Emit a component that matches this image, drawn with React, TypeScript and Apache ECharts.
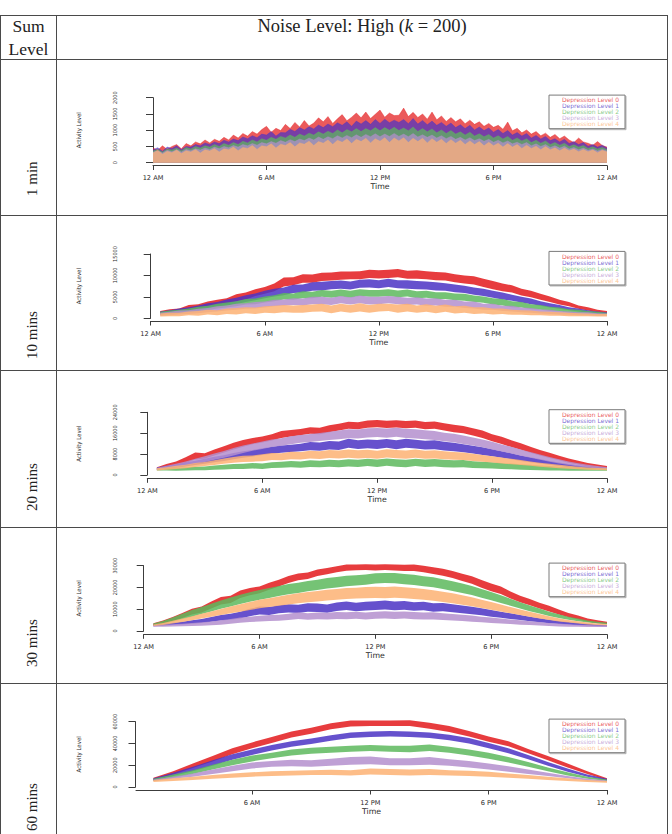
import React, { useEffect, useRef } from "react";
import * as echarts from "echarts";

// ---------- labels ----------
const LEVEL_NAMES = [
  "Depression Level 0",
  "Depression Level 1",
  "Depression Level 2",
  "Depression Level 3",
  "Depression Level 4",
];
const LEVEL_COLORS = ["#E31A1C", "#4B33C4", "#5DB85D", "#B48FCE", "#FDB273"];
const BAND_OPACITY = 0.85;
const SPIKE_OPACITY = 0.72;

const TICK_MINUTES = [0, 360, 720, 1080, 1440];
const TICK_LABELS = ["12 AM", "6 AM", "12 PM", "6 PM", "12 AM"];
const SUM_LEVELS = ["1 min", "10 mins", "20 mins", "30 mins", "60 mins"];

// ---------- sample times (minutes after midnight) ----------
const TIMES_1MIN = Array.from({ length: 97 }, (_, i) => i * 15);
const TIMES_HALF_HOUR = Array.from({ length: 48 }, (_, i) => 30 + i * 30);
const TIMES_HOUR = Array.from({ length: 24 }, (_, i) => 60 + i * 60);

// ---------- 1-min sums (filled from zero) ----------
const MIN1_L0 = [450, 380, 520, 410, 500, 560, 430, 590, 520, 640, 580, 700, 610, 720, 660, 780, 700, 850, 760, 900, 820, 960, 880, 1020, 1120, 940, 1060, 990, 1180, 1050, 1240, 1100, 1300, 1130, 1220, 1380, 1260, 1420, 1210, 1350, 1480, 1290, 1400, 1530, 1380, 1560, 1360, 1490, 1620, 1400, 1530, 1450, 1460, 1680, 1420, 1550, 1390, 1500, 1340, 1560, 1320, 1440, 1270, 1390, 1260, 1350, 1200, 1310, 1180, 1260, 1120, 1210, 1090, 1150, 1030, 1250, 980, 1060, 920, 1010, 880, 960, 830, 910, 780, 870, 740, 820, 700, 620, 760, 640, 600, 540, 650, 530, 480];
const MIN1_L1 = [400, 460, 350, 480, 440, 520, 410, 500, 480, 560, 520, 610, 560, 640, 590, 690, 640, 730, 680, 790, 740, 830, 770, 880, 850, 960, 820, 930, 920, 1030, 960, 1080, 1010, 1110, 1040, 1160, 1080, 1190, 1110, 1230, 1150, 1260, 1120, 1280, 1190, 1300, 1180, 1330, 1210, 1340, 1230, 1310, 1240, 1330, 1200, 1360, 1190, 1300, 1170, 1280, 1150, 1240, 1120, 1220, 1080, 1170, 1050, 1150, 1010, 1100, 990, 1070, 940, 1020, 900, 990, 850, 930, 820, 900, 760, 840, 730, 810, 680, 740, 640, 720, 590, 650, 560, 620, 510, 560, 480, 540, 450];
const MIN1_L2 = [360, 410, 330, 420, 390, 450, 370, 470, 420, 500, 450, 520, 480, 560, 500, 590, 540, 620, 560, 660, 610, 700, 640, 740, 690, 780, 720, 810, 760, 850, 780, 880, 820, 910, 850, 950, 880, 970, 900, 1010, 920, 1020, 950, 1050, 960, 1050, 980, 1080, 980, 1080, 1000, 1090, 990, 1070, 980, 1100, 960, 1050, 950, 1040, 920, 1010, 900, 990, 880, 950, 850, 940, 820, 890, 800, 870, 760, 830, 730, 810, 690, 760, 670, 740, 620, 690, 600, 670, 560, 620, 540, 600, 500, 550, 480, 530, 440, 490, 420, 470, 400];
const MIN1_L3 = [320, 370, 300, 380, 340, 400, 330, 410, 370, 430, 390, 450, 410, 480, 430, 500, 460, 530, 480, 560, 520, 590, 540, 620, 580, 650, 600, 680, 630, 710, 650, 730, 680, 760, 700, 790, 720, 800, 740, 830, 760, 840, 770, 860, 780, 870, 800, 890, 800, 880, 810, 900, 810, 880, 800, 900, 790, 860, 780, 850, 760, 830, 740, 810, 720, 780, 700, 770, 680, 740, 660, 720, 630, 690, 610, 670, 580, 630, 560, 620, 520, 580, 500, 560, 470, 520, 450, 510, 420, 470, 400, 450, 380, 420, 360, 410, 360];
const MIN1_L4 = [300, 380, 260, 350, 310, 390, 280, 370, 330, 410, 300, 400, 360, 440, 330, 430, 400, 480, 370, 470, 440, 530, 410, 520, 490, 580, 450, 570, 530, 620, 490, 610, 570, 660, 530, 650, 600, 700, 560, 690, 630, 730, 590, 720, 650, 750, 610, 740, 660, 770, 620, 760, 670, 770, 620, 750, 650, 750, 610, 740, 630, 720, 590, 710, 600, 690, 560, 670, 560, 650, 520, 630, 520, 600, 480, 590, 480, 560, 440, 540, 440, 510, 400, 500, 400, 460, 370, 450, 370, 420, 340, 410, 340, 390, 310, 380, 330];

// ---------- 10-min sums (band: low / high) ----------
const MIN10_L0_LO = [900, 1200, 1400, 2000, 2200, 2700, 3000, 3400, 4000, 4400, 5200, 5700, 6300, 7400, 7700, 8300, 8300, 8700, 8800, 9000, 9100, 9100, 9400, 9300, 9400, 9600, 9200, 9200, 9100, 8900, 8800, 8400, 8100, 7900, 7300, 6800, 6300, 6000, 5300, 4900, 4300, 3800, 3200, 2800, 2200, 1800, 1400, 1100];
const MIN10_L0_HI = [1700, 2100, 2300, 3100, 3300, 3900, 4300, 4700, 5600, 6000, 6800, 7300, 8100, 9500, 9600, 10300, 10200, 10600, 10700, 10900, 10900, 11000, 11300, 11200, 11300, 11500, 11100, 11200, 11000, 10800, 10700, 10300, 10000, 9800, 9200, 8700, 8100, 7700, 6900, 6400, 5700, 5100, 4300, 3800, 3000, 2600, 2000, 1700];
const MIN10_L1_LO = [900, 1100, 1400, 1700, 1900, 2300, 2600, 3000, 3300, 3800, 4200, 4700, 5100, 5400, 5900, 6000, 6400, 6500, 6800, 6900, 6700, 7100, 7200, 7000, 7300, 7000, 6900, 6800, 6700, 6500, 6400, 6100, 5900, 5500, 5200, 4800, 4400, 4100, 3700, 3300, 2900, 2500, 2200, 1900, 1600, 1300, 1100, 1000];
const MIN10_L1_HI = [1600, 1900, 2300, 2600, 3000, 3500, 3800, 4400, 4800, 5400, 5800, 6400, 6900, 7200, 7800, 7900, 8400, 8500, 8700, 8800, 8600, 9000, 9100, 8900, 9200, 8900, 8900, 8700, 8600, 8400, 8200, 7900, 7600, 7200, 6900, 6400, 6000, 5500, 5000, 4600, 4000, 3500, 3100, 2600, 2300, 1900, 1600, 1400];
const MIN10_L2_LO = [800, 1000, 1200, 1400, 1700, 1900, 2300, 2500, 2800, 3200, 3300, 3700, 4000, 4400, 4300, 4700, 4700, 5000, 4800, 5100, 4800, 5200, 5000, 5000, 5200, 4900, 5100, 4700, 4800, 4500, 4500, 4200, 4100, 3800, 3600, 3200, 3000, 2600, 2500, 2100, 2000, 1700, 1600, 1300, 1200, 1100, 1000, 900];
const MIN10_L2_HI = [1500, 1800, 2000, 2300, 2700, 2900, 3400, 3700, 4000, 4500, 4600, 5100, 5400, 5900, 5800, 6300, 6200, 6600, 6400, 6700, 6400, 6800, 6600, 6600, 6800, 6500, 6700, 6300, 6400, 6100, 6100, 5800, 5700, 5300, 5100, 4700, 4500, 4000, 3800, 3300, 3100, 2700, 2500, 2100, 2000, 1700, 1500, 1300];
const MIN10_L3_LO = [600, 700, 900, 1000, 1200, 1400, 1600, 1800, 2000, 2200, 2300, 2500, 2800, 2900, 3100, 3000, 3300, 3300, 3100, 3500, 3200, 3500, 3200, 3300, 3500, 3300, 3100, 3200, 2900, 3000, 2700, 2700, 2400, 2300, 2000, 2000, 1700, 1600, 1400, 1300, 1100, 1000, 900, 800, 700, 700, 600, 600];
const MIN10_L3_HI = [1300, 1500, 1800, 1900, 2200, 2400, 2800, 3000, 3400, 3500, 3800, 3900, 4300, 4400, 4700, 4600, 5000, 5000, 4800, 5200, 4900, 5300, 5000, 5000, 5200, 5000, 4800, 4900, 4600, 4700, 4300, 4300, 3900, 3900, 3400, 3400, 2900, 2900, 2500, 2400, 2100, 2000, 1700, 1600, 1400, 1400, 1200, 1100];
const MIN10_L4_LO = [400, 500, 500, 700, 600, 900, 700, 1000, 900, 1200, 1000, 1300, 1200, 1400, 1300, 1300, 1500, 1600, 1200, 1600, 1300, 1600, 1300, 1600, 1700, 1300, 1600, 1300, 1500, 1200, 1500, 1100, 1300, 1000, 1100, 900, 1000, 800, 800, 700, 700, 600, 600, 500, 500, 500, 400, 400];
const MIN10_L4_HI = [1100, 1300, 1300, 1600, 1700, 2000, 1900, 2300, 2400, 2600, 2500, 2800, 2900, 3100, 3000, 3100, 3200, 3400, 3000, 3400, 3100, 3500, 3100, 3400, 3400, 3200, 3400, 3000, 3300, 2900, 3200, 2800, 2900, 2600, 2600, 2300, 2300, 2000, 1900, 1800, 1600, 1500, 1400, 1300, 1200, 1100, 1000, 1000];

// ---------- 20-min sums ----------
const MIN20_L0_LO = [2000, 2700, 3500, 4600, 5900, 6300, 7500, 8600, 9800, 10800, 11800, 12400, 13200, 14200, 14700, 15200, 15800, 15600, 16400, 17000, 17700, 17500, 18100, 18300, 18000, 18200, 17900, 18100, 17500, 17700, 17000, 16400, 16000, 15100, 14200, 12900, 11900, 10700, 9700, 8500, 7500, 6500, 5600, 4700, 4000, 3300, 2800, 2400];
const MIN20_L0_HI = [3000, 4200, 5200, 6800, 8600, 8300, 9800, 11000, 12300, 13400, 14200, 14700, 15600, 16800, 17200, 17600, 18300, 18100, 19000, 19600, 20400, 20200, 20900, 21100, 20800, 21000, 20700, 20900, 20300, 20500, 19800, 19200, 18800, 17900, 17000, 15600, 14600, 13300, 12200, 10800, 9600, 8500, 7400, 6300, 5500, 4600, 4000, 3400];
const MIN20_L1_LO = [2100, 2400, 2800, 3300, 3800, 4300, 4900, 5400, 6000, 6600, 7100, 7700, 8100, 8500, 8800, 9100, 9500, 9300, 9800, 9600, 10400, 10000, 10200, 10000, 10400, 9900, 10400, 10100, 9800, 9900, 9400, 9100, 8700, 8200, 7700, 7200, 6600, 6000, 5400, 4900, 4400, 3900, 3400, 3000, 2700, 2400, 2200, 2100];
const MIN20_L1_HI = [2900, 3500, 4000, 4800, 5500, 6200, 7000, 7600, 8400, 9100, 9600, 10200, 10800, 11300, 11600, 12000, 12600, 12400, 13000, 12800, 13900, 13300, 13600, 13400, 13800, 13300, 13900, 13500, 13100, 13300, 12700, 12300, 11800, 11200, 10600, 9900, 9100, 8300, 7500, 6800, 6100, 5400, 4800, 4200, 3700, 3300, 3000, 2800];
const MIN20_L2_LO = [1700, 1700, 1600, 1700, 1800, 1800, 2000, 2100, 2300, 2300, 2500, 2300, 2700, 2800, 3000, 2800, 3100, 3000, 3200, 3000, 3300, 3100, 3400, 3100, 3500, 3200, 3000, 3400, 3100, 3300, 3000, 2900, 3000, 2700, 2600, 2500, 2300, 2200, 2000, 1900, 1800, 1700, 1700, 1600, 1600, 1600, 1600, 1600];
const MIN20_L2_HI = [2500, 2700, 2800, 3000, 3200, 3300, 3600, 3900, 4200, 4300, 4600, 4400, 4900, 5100, 5400, 5200, 5600, 5500, 5800, 5600, 6000, 5800, 6200, 5900, 6300, 6000, 5800, 6200, 5900, 6100, 5800, 5600, 5700, 5300, 5100, 4900, 4600, 4400, 4100, 3900, 3600, 3400, 3200, 3000, 2900, 2700, 2600, 2500];
const MIN20_L3_LO = [2000, 2500, 3000, 3600, 4300, 5000, 5800, 6600, 7500, 8400, 9300, 10000, 10700, 11200, 11800, 12300, 12600, 13000, 13400, 13700, 14100, 14000, 14400, 14500, 14300, 14600, 14200, 14000, 13700, 13400, 12900, 12500, 11900, 11300, 10600, 9800, 9000, 8200, 7400, 6600, 5800, 5100, 4400, 3800, 3300, 2900, 2500, 2200];
const MIN20_L3_HI = [2800, 3500, 4300, 5200, 6200, 7200, 8200, 9200, 10300, 11300, 12100, 12800, 13600, 14100, 14800, 15300, 15700, 16100, 16600, 17000, 17500, 17400, 17900, 18000, 17800, 18100, 17700, 17500, 17100, 16800, 16200, 15800, 15100, 14400, 13600, 12700, 11700, 10800, 9800, 8800, 7800, 6900, 6000, 5200, 4500, 3900, 3400, 3000];
const MIN20_L4_LO = [1700, 2000, 2300, 2600, 3100, 3400, 3800, 4300, 4700, 5000, 5100, 5300, 5700, 5600, 6000, 5900, 6300, 6100, 6500, 6300, 6600, 6300, 6500, 6200, 6700, 6400, 6200, 6600, 6200, 6300, 6000, 5800, 5700, 5400, 5100, 4800, 4400, 4100, 3800, 3500, 3200, 2900, 2600, 2400, 2200, 2000, 1900, 1800];
const MIN20_L4_HI = [2600, 3000, 3500, 3900, 4600, 5000, 5600, 6300, 6900, 7400, 7500, 7900, 8400, 8300, 8900, 8800, 9300, 9100, 9600, 9400, 9800, 9500, 9700, 9300, 9900, 9600, 9400, 9800, 9300, 9500, 9100, 8800, 8600, 8100, 7700, 7200, 6700, 6200, 5700, 5200, 4700, 4300, 3900, 3500, 3200, 2900, 2700, 2600];

// ---------- 30-min sums ----------
const MIN30_L0_LO = [2500, 3500, 4600, 6000, 7600, 8500, 10300, 12200, 12900, 15200, 16400, 17300, 18900, 20400, 22100, 23300, 23900, 25300, 26100, 27000, 27700, 27900, 28000, 27800, 28000, 27800, 27600, 27600, 27000, 26200, 25400, 24300, 23000, 21700, 19900, 18300, 17000, 14900, 13200, 11800, 10300, 9000, 7600, 6300, 5300, 4300, 3600, 3200];
const MIN30_L0_HI = [3600, 4800, 6400, 8300, 10200, 11300, 13500, 15600, 16200, 18600, 19800, 20500, 22200, 23600, 25300, 26400, 26900, 28200, 29000, 29800, 30500, 30600, 30700, 30600, 30700, 30600, 30400, 30500, 30000, 29300, 28600, 27600, 26300, 25100, 23400, 21800, 20400, 18100, 16200, 14700, 13000, 11600, 9900, 8300, 7100, 5800, 4900, 4300];
const MIN30_L1_LO = [2200, 2400, 2700, 3000, 3300, 3700, 4200, 4800, 5200, 5800, 6800, 7600, 7400, 8100, 8500, 8300, 8900, 8700, 8400, 9200, 9600, 9100, 9400, 9700, 9900, 9500, 9800, 9300, 9500, 8900, 9100, 8600, 8200, 7700, 7200, 6600, 6100, 5500, 5000, 4500, 4000, 3600, 3200, 2900, 2600, 2400, 2200, 2100];
const MIN30_L1_HI = [2900, 3300, 3800, 4300, 4900, 5500, 6400, 7300, 7900, 8800, 10200, 11200, 11000, 11800, 12300, 12100, 12800, 12600, 12200, 13100, 13600, 13000, 13400, 13700, 14000, 13500, 13800, 13200, 13400, 12700, 12900, 12300, 11700, 11100, 10400, 9600, 8900, 8100, 7300, 6600, 5900, 5200, 4600, 4100, 3700, 3300, 3000, 2800];
const MIN30_L2_LO = [2600, 3300, 4300, 5400, 6600, 7800, 9000, 10200, 11300, 12400, 13400, 14300, 15200, 16100, 16900, 17500, 18300, 18800, 19500, 20000, 20600, 20900, 21300, 21800, 22000, 21900, 21500, 21100, 20600, 20100, 19300, 18400, 17500, 16500, 15300, 14100, 12900, 11600, 10300, 9100, 8000, 6900, 6000, 5200, 4500, 3900, 3400, 3100];
const MIN30_L2_HI = [3400, 4600, 6200, 7900, 9600, 11000, 12500, 14000, 15400, 16600, 17800, 18800, 19700, 20700, 21600, 22200, 23000, 23500, 24300, 24800, 25400, 25600, 26000, 26500, 26700, 26600, 26200, 25800, 25200, 24700, 23800, 22900, 21800, 20700, 19300, 17900, 16400, 14800, 13200, 11700, 10300, 8900, 7700, 6600, 5700, 4800, 4200, 3800];
const MIN30_L3_LO = [2000, 2000, 2100, 2200, 2300, 2400, 2600, 2900, 3300, 3800, 4100, 4400, 4600, 4700, 5000, 5500, 5200, 5400, 5300, 5500, 5400, 5600, 5300, 5600, 5800, 5500, 5700, 5400, 5300, 5300, 5000, 4800, 4600, 4300, 4000, 3700, 3400, 3200, 2900, 2700, 2500, 2300, 2100, 2000, 1900, 1800, 1800, 1800];
const MIN30_L3_HI = [2700, 2900, 3100, 3300, 3700, 4000, 4400, 4900, 5500, 6200, 6600, 7000, 7300, 7500, 7900, 8600, 8200, 8500, 8400, 8700, 8600, 8800, 8500, 8900, 9100, 8800, 9000, 8700, 8500, 8600, 8200, 7800, 7500, 7100, 6600, 6200, 5700, 5300, 4900, 4500, 4100, 3700, 3400, 3100, 2900, 2700, 2600, 2500];
const MIN30_L4_LO = [2300, 2800, 3400, 4100, 4900, 5700, 6500, 7300, 8100, 8900, 9700, 10400, 11000, 11600, 12200, 12700, 13200, 13600, 14000, 14400, 14700, 14900, 15100, 15200, 15100, 15300, 15000, 14700, 14300, 13900, 13300, 12800, 12100, 11400, 10600, 9800, 9000, 8100, 7300, 6500, 5800, 5100, 4400, 3900, 3400, 3000, 2700, 2500];
const MIN30_L4_HI = [3000, 3700, 4700, 5700, 6800, 7900, 9000, 10100, 11200, 12300, 13300, 14300, 15100, 15900, 16600, 17300, 17900, 18400, 18900, 19300, 19700, 19900, 20200, 20300, 20200, 20400, 20100, 19700, 19300, 18700, 18000, 17300, 16400, 15500, 14400, 13300, 12200, 11000, 9900, 8800, 7800, 6800, 5900, 5100, 4500, 3900, 3500, 3200];

// ---------- 60-min sums ----------
const MIN60_L0_LO = [6500, 11500, 17500, 23500, 30000, 35500, 40500, 45500, 49000, 53000, 55500, 56000, 56000, 56000, 53500, 50500, 46500, 41500, 37500, 31000, 24500, 18000, 12000, 6500];
const MIN60_L0_HI = [8500, 14500, 21500, 28500, 35500, 41000, 46000, 51000, 54500, 58500, 61000, 61200, 61000, 61300, 59000, 56000, 51500, 46500, 42000, 35000, 28500, 21500, 14500, 8000];
const MIN60_L1_LO = [6000, 10000, 14500, 19500, 25000, 29500, 33500, 37000, 39500, 42500, 45000, 46000, 46500, 46000, 45000, 43000, 40000, 35500, 31000, 25500, 19500, 14000, 9500, 6000];
const MIN60_L1_HI = [8000, 13000, 18500, 24500, 30000, 34500, 38500, 42000, 44500, 47500, 50000, 51000, 51500, 51000, 50000, 48000, 45000, 40500, 35500, 29500, 23000, 17000, 11500, 7500];
const MIN60_L2_LO = [5500, 8500, 12000, 16000, 20000, 23500, 26500, 29000, 30500, 31500, 32500, 33000, 32500, 32000, 33000, 31500, 29000, 26000, 22500, 18500, 14500, 10500, 7500, 5500];
const MIN60_L2_HI = [7500, 11500, 15500, 20500, 25000, 29000, 31500, 34500, 36000, 37000, 38000, 38500, 38000, 38000, 39000, 37000, 34500, 31500, 27500, 23000, 18000, 13500, 9500, 7000];
const MIN60_L3_LO = [5500, 7500, 9500, 12000, 14500, 17000, 18500, 19000, 18500, 19500, 20500, 21000, 20000, 20000, 20500, 19500, 18000, 16000, 14000, 12000, 10000, 8000, 6000, 5000];
const MIN60_L3_HI = [7000, 9500, 12500, 16000, 19500, 22500, 24000, 25000, 24500, 26000, 27500, 28000, 26500, 26500, 27500, 25500, 24000, 21500, 19000, 16000, 13000, 10000, 7500, 6000];
const MIN60_L4_LO = [4500, 5500, 6500, 7500, 8500, 9500, 10000, 10500, 11000, 11000, 10500, 11500, 11000, 10500, 11000, 10500, 10000, 9500, 8500, 7500, 6500, 5500, 4500, 4000];
const MIN60_L4_HI = [6500, 8000, 9500, 11000, 12500, 13500, 14500, 15000, 15500, 15800, 15500, 17000, 16500, 16000, 16500, 15500, 15000, 14000, 12500, 11000, 9500, 8000, 6500, 5500];

// ---------- panel layout ----------
const Y_AXIS_X = 135.5;
const PLOT_RIGHT = 607;

type Band = [number[] | null, number[]];
type Panel = {
  times: number[];
  bands: Band[];
  yMax: number;
  yStep: number;
  left: number;
  top: number;
  bottom: number;
  xMin: number;
  xOffset: number;
  ticks: number[];
};

const PANELS: Panel[] = [
  {
    times: TIMES_1MIN,
    bands: [[null, MIN1_L0], [null, MIN1_L1], [null, MIN1_L2], [null, MIN1_L3], [null, MIN1_L4]],
    yMax: 2000, yStep: 500, left: 153, top: 97.7, bottom: 162.7, xMin: 0, xOffset: 2.8,
    ticks: TICK_MINUTES,
  },
  {
    times: TIMES_HALF_HOUR,
    bands: [[MIN10_L0_LO, MIN10_L0_HI], [MIN10_L1_LO, MIN10_L1_HI], [MIN10_L2_LO, MIN10_L2_HI], [MIN10_L3_LO, MIN10_L3_HI], [MIN10_L4_LO, MIN10_L4_HI]],
    yMax: 15000, yStep: 5000, left: 150.7, top: 254, bottom: 318.3, xMin: 0, xOffset: 2.7,
    ticks: TICK_MINUTES,
  },
  {
    times: TIMES_HALF_HOUR,
    bands: [[MIN20_L0_LO, MIN20_L0_HI], [MIN20_L1_LO, MIN20_L1_HI], [MIN20_L2_LO, MIN20_L2_HI], [MIN20_L3_LO, MIN20_L3_HI], [MIN20_L4_LO, MIN20_L4_HI]],
    yMax: 24000, yStep: 8000, left: 147.3, top: 412.3, bottom: 475, xMin: 0, xOffset: 3.3,
    ticks: TICK_MINUTES,
  },
  {
    times: TIMES_HALF_HOUR,
    bands: [[MIN30_L0_LO, MIN30_L0_HI], [MIN30_L1_LO, MIN30_L1_HI], [MIN30_L2_LO, MIN30_L2_HI], [MIN30_L3_LO, MIN30_L3_HI], [MIN30_L4_LO, MIN30_L4_HI]],
    yMax: 30000, yStep: 10000, left: 143.7, top: 565.7, bottom: 631, xMin: 0, xOffset: 3.3,
    ticks: TICK_MINUTES,
  },
  {
    times: TIMES_HOUR,
    bands: [[MIN60_L0_LO, MIN60_L0_HI], [MIN60_L1_LO, MIN60_L1_HI], [MIN60_L2_LO, MIN60_L2_HI], [MIN60_L3_LO, MIN60_L3_HI], [MIN60_L4_LO, MIN60_L4_HI]],
    yMax: 60000, yStep: 20000, left: 136, top: 721.7, bottom: 787, xMin: 7, xOffset: 3,
    ticks: TICK_MINUTES.slice(1),
  },
];

// table frame
const TABLE_RIGHT = 667.5;
const TABLE_RULES_Y = [15.5, 59.5, 215.5, 370.5, 527.5, 683.5];
const TABLE_RULES_X = [0.5, 56.5, TABLE_RIGHT];
const ROW_LABEL_BASE_Y = [196, 359, 511, 667, 831];

const AXIS_COLOR = "#3c3c3c";
const TEXT_COLOR = "#2a2a2a";
const NARROW_FONT = "'Liberation Sans Narrow', 'DejaVu Sans Condensed', 'Liberation Sans', sans-serif";
const SERIF_FONT = "'Liberation Serif', 'DejaVu Serif', serif";

function buildOption() {
  const grid = PANELS.map((p) => ({
    left: p.left,
    top: p.top,
    width: PLOT_RIGHT - p.left,
    height: p.bottom - p.top,
    containLabel: false,
    outerBoundsMode: "none",
  }));

  const xAxis = PANELS.map((p, i) => ({
    type: "value",
    gridIndex: i,
    min: p.xMin,
    max: 1440,
    offset: p.xOffset,
    splitLine: { show: false },
    axisLine: { show: true, onZero: false, lineStyle: { color: AXIS_COLOR, width: 1 } },
    axisTick: { show: true, length: 4.5, customValues: p.ticks, lineStyle: { color: AXIS_COLOR, width: 1 } },
    axisLabel: {
      customValues: p.ticks,
      formatter: (v: number) => TICK_LABELS[TICK_MINUTES.indexOf(v)] ?? "",
      fontSize: 6.6,
      fontFamily: "'DejaVu Sans', sans-serif",
      color: TEXT_COLOR,
      margin: 9,
    },
    name: "Time",
    nameLocation: "middle",
    nameGap: 17,
    nameTextStyle: { fontSize: 7.8, fontFamily: "'DejaVu Sans', sans-serif", color: TEXT_COLOR },
  }));

  const yAxis = PANELS.map((p, i) => ({
    type: "value",
    gridIndex: i,
    min: 0,
    max: p.yMax,
    interval: p.yStep,
    offset: p.left - Y_AXIS_X,
    splitLine: { show: false },
    axisLine: { show: true, lineStyle: { color: AXIS_COLOR, width: 1 } },
    axisTick: { show: true, length: 7, lineStyle: { color: AXIS_COLOR, width: 1 } },
    axisLabel: {
      rotate: 90,
      fontSize: 5.5,
      fontFamily: NARROW_FONT,
      color: TEXT_COLOR,
      margin: 18,
      showMinLabel: true,
      showMaxLabel: true,
      formatter: (v: number) => String(v),
    },
    name: "Activity Level",
    nameLocation: "middle",
    nameRotate: 90,
    nameGap: 54,
    nameTextStyle: { fontSize: 6, fontFamily: NARROW_FONT, color: TEXT_COLOR },
  }));

  const series: any[] = [];
  PANELS.forEach((p, pi) => {
    p.bands.forEach(([lo, hi], li) => {
      const color = LEVEL_COLORS[li];
      if (!lo) {
        // spiky per-minute totals, filled down to zero
        series.push({
          type: "line",
          name: LEVEL_NAMES[li],
          xAxisIndex: pi,
          yAxisIndex: pi,
          symbol: "none",
          silent: true,
          clip: false,
          data: p.times.map((t, i) => [t, hi[i]]),
          lineStyle: { width: 0.5, color, opacity: SPIKE_OPACITY },
          areaStyle: { color, opacity: SPIKE_OPACITY },
        });
      } else {
        // one polygon: upper edge left→right, lower edge right→left
        series.push({
          type: "custom",
          name: LEVEL_NAMES[li],
          xAxisIndex: pi,
          yAxisIndex: pi,
          silent: true,
          clip: false,
          data: p.times.map((t, i) => [t, lo[i], hi[i]]),
          encode: { x: 0, y: [1, 2] },
          renderItem: (params: any, api: any) => {
            if (params.dataIndex !== 0) return null;
            const upper = p.times.map((t, i) => api.coord([t, hi[i]]));
            const lower = p.times.map((t, i) => api.coord([t, lo[i]])).reverse();
            return {
              type: "polygon",
              shape: { points: upper.concat(lower) },
              style: { fill: color, opacity: BAND_OPACITY },
            };
          },
        });
      }
    });
  });

  const legend = PANELS.map((p) => ({
    orient: "vertical",
    left: 549,
    top: p.top - 2.6,
    itemWidth: 1,
    itemHeight: 4.3,
    itemGap: 0,
    padding: [1.8, 6, 1.8, 7],
    borderColor: "#7a7a7a",
    borderWidth: 1,
    backgroundColor: "#ffffff",
    shadowColor: "rgba(0,0,0,0.3)",
    shadowBlur: 1,
    shadowOffsetX: 1,
    shadowOffsetY: 1,
    selectedMode: false,
    textStyle: { fontSize: 6, fontFamily: "'DejaVu Sans', sans-serif", lineHeight: 4.3, padding: 0 },
    data: LEVEL_NAMES.map((name, i) => ({
      name,
      icon: "rect",
      itemStyle: { opacity: 0 },
      textStyle: { color: LEVEL_COLORS[i], opacity: 0.75 },
    })),
  }));

  const frame: any[] = [];
  TABLE_RULES_Y.forEach((y) =>
    frame.push({ type: "line", silent: true, shape: { x1: 0, y1: y, x2: TABLE_RIGHT + 0.5, y2: y }, style: { stroke: "#4a4a4a", lineWidth: 1 } })
  );
  TABLE_RULES_X.forEach((x) =>
    frame.push({ type: "line", silent: true, shape: { x1: x, y1: 15, x2: x, y2: 834 }, style: { stroke: "#4a4a4a", lineWidth: 1 } })
  );

  const texts: any[] = [
    { type: "text", silent: true, x: 28.5, y: 26, style: { text: "Sum", fontSize: 17.5, fontFamily: SERIF_FONT, fill: "#222", align: "center", verticalAlign: "middle" } },
    { type: "text", silent: true, x: 28.5, y: 49, style: { text: "Level", fontSize: 17.5, fontFamily: SERIF_FONT, fill: "#222", align: "center", verticalAlign: "middle" } },
    {
      type: "text",
      silent: true,
      x: 362,
      y: 26,
      style: {
        text: "{n|Noise Level: High (}{i|k}{n| = 200)}",
        align: "center",
        verticalAlign: "middle",
        rich: {
          n: { fontSize: 18.5, fontFamily: SERIF_FONT, fill: "#222", color: "#222" },
          i: { fontSize: 18.5, fontFamily: SERIF_FONT, fontStyle: "italic", fill: "#222", color: "#222" },
        },
      },
    },
    ...SUM_LEVELS.map((label, i) => ({
      type: "text",
      silent: true,
      x: 31.5,
      y: ROW_LABEL_BASE_Y[i],
      rotation: Math.PI / 2,
      style: { text: label, fontSize: 15, fontFamily: SERIF_FONT, fill: "#222", align: "left", verticalAlign: "middle" },
    })),
  ];

  return {
    animation: false,
    backgroundColor: "#ffffff",
    grid,
    xAxis,
    yAxis,
    legend,
    series,
    graphic: { elements: [...frame, ...texts] },
  };
}

export default function App() {
  const ref = useRef<HTMLDivElement>(null);
  useEffect(() => {
    document.body.style.margin = "0";
    if (!ref.current) return;
    const chart = echarts.init(ref.current, undefined, { renderer: "svg" });
    chart.setOption(buildOption() as any);
    return () => chart.dispose();
  }, []);
  return <div ref={ref} style={{ width: 672, height: 834 }} />;
}
